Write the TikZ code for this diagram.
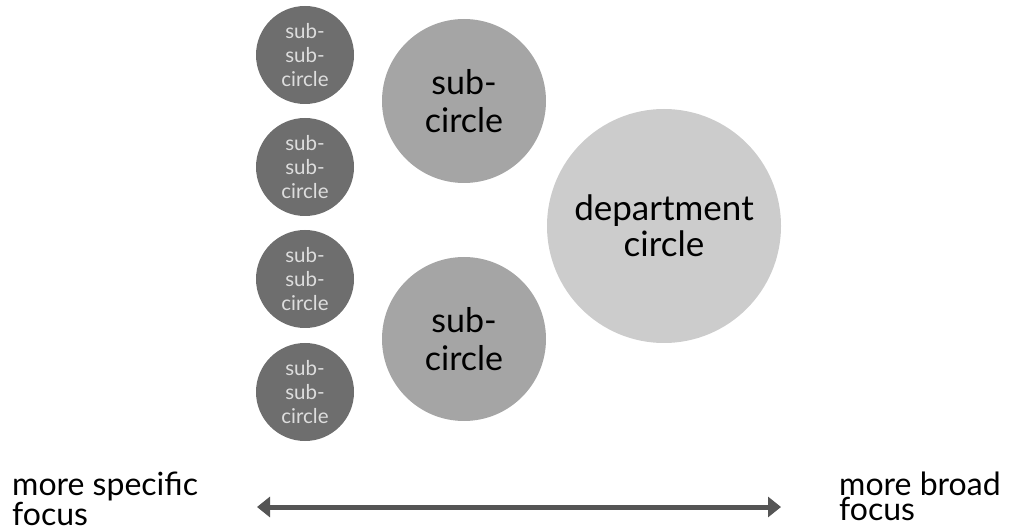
\documentclass[tikz,border=0pt]{standalone}
\usepackage{fontspec}
\setmainfont{Lato}
\usetikzlibrary{arrows.meta}
\definecolor{dark}{HTML}{6E6E6E}
\definecolor{mid}{HTML}{A5A5A5}
\definecolor{light}{HTML}{CCCCCC}
\definecolor{arrowc}{HTML}{555555}
\definecolor{pale}{HTML}{DDDDDD}
\tikzset{
  ssc/.style={circle, fill=dark, minimum size=98pt, inner sep=0pt, align=center, text=pale,
    font=\fontsize{20.5}{24}\selectfont},
  sc/.style={circle, fill=mid, minimum size=164pt, inner sep=0pt, align=center, text=black,
    font=\fontsize{34}{38}\selectfont},
  dc/.style={circle, fill=light, minimum size=234pt, inner sep=0pt, align=center, text=black,
    font=\fontsize{35}{36}\selectfont},
  lbl/.style={align=left, anchor=north west, inner sep=0pt, text=black,
    font=\fontsize{32}{22}\selectfont},
  axis/.style={draw=arrowc, line width=5pt, {Triangle[length=13pt,width=20pt]}-{Triangle[length=13pt,width=20pt]}}
}
\begin{document}
\begin{tikzpicture}[x=1pt,y=-1pt]
\useasboundingbox (0,0) rectangle (1010,529);
\node[ssc] (s1) at (305,55) {sub-\\sub-\\circle};
\node[ssc] (s2) at (305,167) {sub-\\sub-\\circle};
\node[ssc] (s3) at (305,279) {sub-\\sub-\\circle};
\node[ssc] (s4) at (305,392) {sub-\\sub-\\circle};
\node[sc] (c1) at (464,101) {sub-\\circle};
\node[sc] (c2) at (464,339) {sub-\\circle};
\node[dc] (d) at (664,226) {department\\circle};
\node[lbl] (l1) at (12,472) {more specific\\focus};
\node[lbl] (l2) at (839,472) {more broad\\focus};
\coordinate (a1) at (257,507);
\coordinate (a2) at (781,507);
\draw[axis] (a1) -- (a2);
\end{tikzpicture}
\end{document}
